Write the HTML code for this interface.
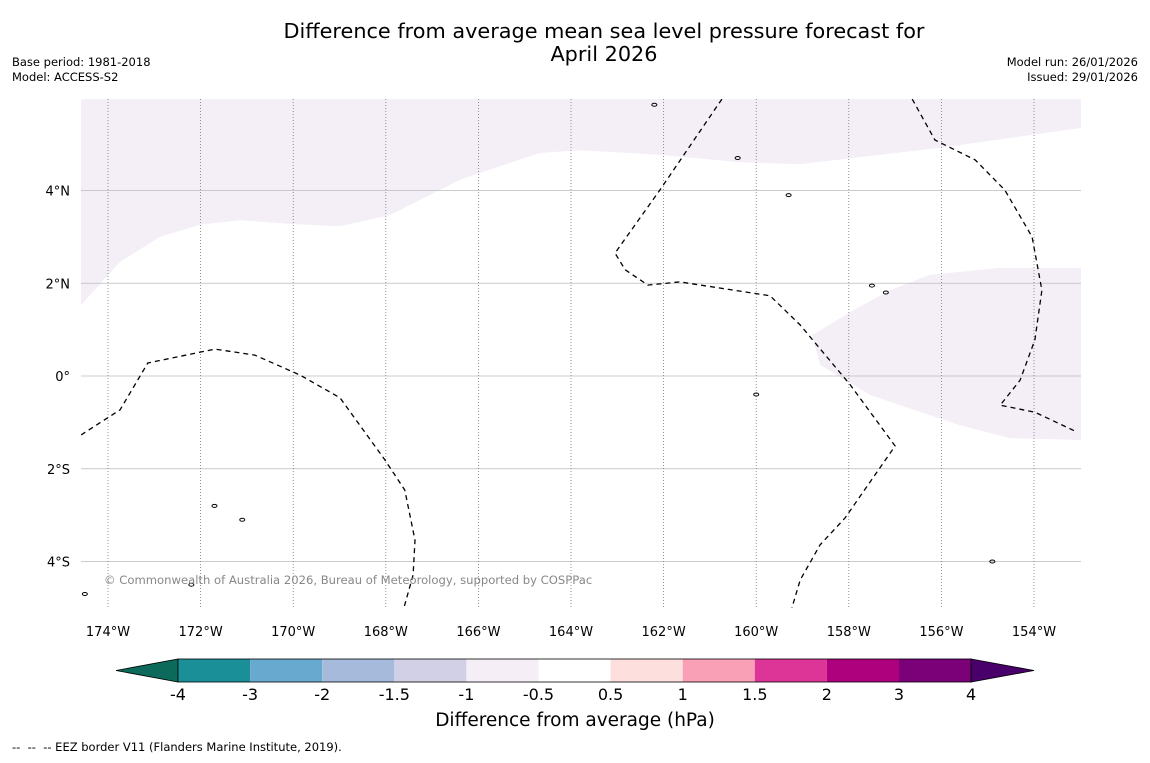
<!DOCTYPE html>
<html><head><meta charset="utf-8"><style>
body{margin:0;background:#fff;font-family:"Liberation Sans",sans-serif;}
svg text{font-family:"DejaVu Sans","Liberation Sans",sans-serif;}
</style></head><body>
<svg id="c" width="1150" height="758" xmlns="http://www.w3.org/2000/svg">
<rect width="1150" height="758" fill="#fff"/>
<text x="604" y="38" font-size="20.8" text-anchor="middle">Difference from average mean sea level pressure forecast for</text>
<text x="604" y="61" font-size="20.8" text-anchor="middle">April 2026</text>
<text x="12" y="66" font-size="11.5">Base period: 1981-2018</text>
<text x="12" y="81" font-size="11.5">Model: ACCESS-S2</text>
<text x="1138" y="66" font-size="11.5" text-anchor="end">Model run: 26/01/2026</text>
<text x="1138" y="81" font-size="11.5" text-anchor="end">Issued: 29/01/2026</text>
<defs><clipPath id="mc"><rect x="81" y="99" width="1000" height="509"/></clipPath></defs>
<g id="map" clip-path="url(#mc)"></g>
<g id="axes"></g>
<g id="cbar"></g>
<text x="575" y="726" font-size="18.5" text-anchor="middle">Difference from average (hPa)</text>
<text x="12" y="751" font-size="11.5" xml:space="preserve" style="white-space:pre">--  --  -- EEZ border V11 (Flanders Marine Institute, 2019).</text>
</svg>
<script>
const lonTicks=[-174,-172,-170,-168,-166,-164,-162,-160,-158,-156,-154];
const latTicks=[4,2,0,-2,-4];
const posLon=[-174.58,-152.98,-152.98,-156.03,-159.05,-160.35,-162.08,-163.81,-164.67,-166.40,-167.91,-168.99,-170.07,-171.15,-172.01,-172.88,-173.74,-174.58];
const posLat=[5.97,5.97,5.35,4.92,4.57,4.61,4.77,4.87,4.81,4.23,3.47,3.23,3.28,3.36,3.26,3.00,2.46,1.53];
const pos2Lon=[-152.98,-154.73,-156.25,-157.11,-157.97,-158.79,-158.62,-157.54,-155.60,-154.52,-152.98];
const pos2Lat=[2.33,2.33,2.18,1.85,1.38,0.88,0.24,-0.41,-1.06,-1.34,-1.38];
const eezALon=[-174.58,-173.74,-173.14,-171.69,-170.83,-169.85,-168.99,-168.02,-167.59,-167.37,-167.41,-167.61];
const eezALat=[-1.27,-0.73,0.28,0.58,0.45,0.02,-0.47,-1.81,-2.46,-3.54,-4.29,-5.0];
const eezBLon=[-160.74,-162.08,-163.05,-162.83,-162.34,-161.65,-159.70,-159.05,-157.97,-157.00,-158.08,-158.62,-159.05,-159.23];
const eezBLat=[5.97,4.01,2.65,2.29,1.96,2.03,1.73,1.10,-0.19,-1.51,-3.06,-3.64,-4.40,-5.0];
const eezCLon=[-156.63,-156.14,-155.27,-154.63,-154.04,-153.83,-153.98,-154.30,-154.73,-153.98,-153.07];
const eezCLat=[5.97,5.09,4.66,4.01,3.00,1.85,0.78,-0.09,-0.63,-0.78,-1.21];
const islLon=[-171.7,-171.1,-159.3,-157.5,-157.2,-172.2,-154.9,-174.5,-160.0,-162.2,-160.4];
const islLat=[-2.8,-3.1,3.9,1.95,1.8,-4.5,-4.0,-4.7,-0.4,5.85,4.7];
const cbBounds=[-4,-3,-2,-1.5,-1,-0.5,0.5,1,1.5,2,3,4];
const cbColors=["#1b8f97","#68a9d0","#a6bbdb","#d1d0e6","#f5eef7","#ffffff","#fde0dd","#f9a0b6","#dd3597","#ae017e","#7a0177"];
const cbUnder="#0b6a5a", cbOver="#4a006b";
const NS="http://www.w3.org/2000/svg";
const X=l=>108+(l+174)*46.3, Y=l=>376-l*46.375;
function mk(t,a,p){const e=document.createElementNS(NS,t);for(const k in a)e.setAttribute(k,a[k]);p.appendChild(e);return e;}
const map=document.getElementById('map'),axes=document.getElementById('axes'),cb=document.getElementById('cbar');
const pts=(lo,la)=>lo.map((v,i)=>X(v).toFixed(1)+','+Y(la[i]).toFixed(1)).join(' ');
let p=mk('polygon',{points:pts(posLon,posLat),fill:'#f4eef7'},map);

p=mk('polygon',{points:pts(pos2Lon,pos2Lat),fill:'#f4eef7'},map);

latTicks.forEach(v=>{const l=mk('line',{x1:81,x2:1081,y1:Y(v),y2:Y(v),stroke:'#bbb','stroke-width':0.8},map);

const t=mk('text',{x:70,y:Y(v)+5,'font-size':13,'text-anchor':'end'},axes);
t.textContent=v>0?v+'°N':v<0?(-v)+'°S':'0°';
});
lonTicks.forEach(v=>{const l=mk('line',{x1:X(v),x2:X(v),y1:99,y2:608,stroke:'#777','stroke-width':0.8,'stroke-dasharray':'1,2'},map);

const t=mk('text',{x:X(v),y:636,'font-size':13,'text-anchor':'middle'},axes);
t.textContent=(-v)+'°W';
});
[[eezALon,eezALat],[eezBLon,eezBLat],[eezCLon,eezCLat]].forEach(([lo,la])=>{
const l=mk('polyline',{points:pts(lo,la),fill:'none',stroke:'#000','stroke-width':1.3,'stroke-dasharray':'5,4'},map);
});
islLon.forEach((v,i)=>{const e=mk('ellipse',{cx:X(v),cy:Y(islLat[i]),rx:2.5,ry:1.5,fill:'none',stroke:'#000','stroke-width':1},map);
});
const cr=mk('text',{x:104,y:584,'font-size':11.6,fill:'#888'},map);
cr.textContent='© Commonwealth of Australia 2026, Bureau of Meteorology, supported by COSPPac';

const cx0=178,cw=72.1,cy=659,ch=23;
let t=mk('polygon',{points:`116,${cy+ch/2} ${cx0},${cy} ${cx0},${cy+ch}`,fill:cbUnder,stroke:'#000','stroke-width':0.8},cb);

cbColors.forEach((c,i)=>{const r=mk('rect',{x:cx0+i*cw,y:cy,width:cw,height:ch,fill:c},cb);
});
const xe=cx0+cbColors.length*cw;
t=mk('polygon',{points:`${xe},${cy} ${xe+63},${cy+ch/2} ${xe},${cy+ch}`,fill:cbOver,stroke:'#000','stroke-width':0.8},cb);

mk('rect',{x:cx0,y:cy,width:xe-cx0,height:ch,fill:'none',stroke:'#000','stroke-width':0.8},cb);
cbBounds.forEach((b,i)=>{const tx=mk('text',{x:cx0+i*cw,y:700,'font-size':16,'text-anchor':'middle'},cb);
tx.textContent=String(b);
});
</script>
</body></html>
